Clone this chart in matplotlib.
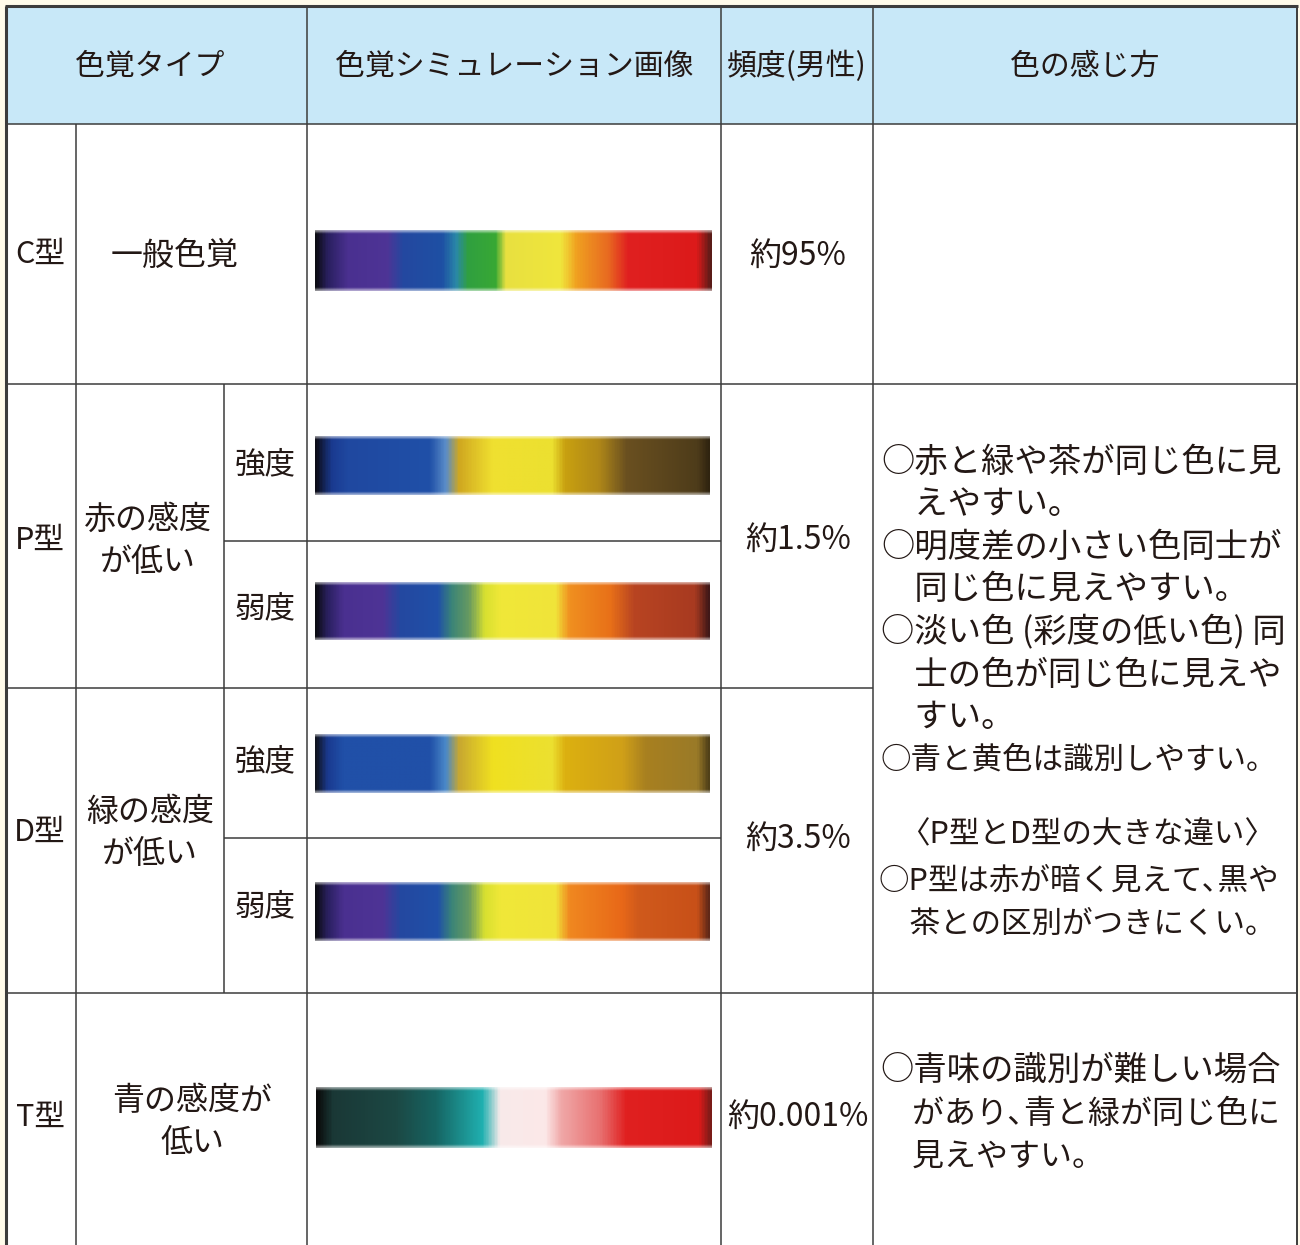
import numpy as np
import matplotlib
matplotlib.use("Agg")
import matplotlib.pyplot as plt
from matplotlib.colors import LinearSegmentedColormap, to_rgb
from matplotlib.patches import Rectangle

plt.rcParams['font.family'] = ['Noto Sans CJK JP', 'DejaVu Sans']

# --- data ---
headers = ["色覚タイプ", "色覚シミュレーション画像", "頻度(男性)", "色の感じ方"]
types = ["C型", "P型", "D型", "T型"]
type_desc = ["一般色覚", "赤の感度\nが低い", "緑の感度\nが低い", "青の感度が\n低い"]
strength = ["強度", "弱度"]
freq = ["約95%", "約1.5%", "約3.5%", "約0.001%"]

# lines of notes (half-width comma where the print sets it tight)
pd_notes = ["○赤と緑や茶が同じ色に見", "　えやすい。",
            "○明度差の小さい色同士が", "　同じ色に見えやすい。",
            "○淡い色 (彩度の低い色) 同", "　士の色が同じ色に見えや", "　すい。",
            "○青と黄色は識別しやすい。"]
pd_diff_title = "〈P型とD型の大きな違い〉"
pd_diff = ["○P型は赤が暗く見えて､黒や", "　茶との区別がつきにくい。"]
t_notes = ["○青味の識別が難しい場合", "　があり､青と緑が同じ色に", "　見えやすい。"]

# gradient stops (position along bar, colour) for each simulation image
grad_c = [(0.0, "#0c0c14"), (0.03, "#2a2060"), (0.08, "#4a3090"), (0.18, "#4e3496"),
          (0.22, "#2448a0"), (0.32, "#1e50a4"), (0.355, "#2a88a8"), (0.385, "#30a040"),
          (0.455, "#38a834"), (0.48, "#e8e040"), (0.62, "#f0e63c"), (0.66, "#f0a020"),
          (0.74, "#e86a20"), (0.79, "#e02020"), (0.965, "#dc1a1a"), (1.0, "#5a1c18")]
grad_p_strong = [(0.0, "#0c0c18"), (0.04, "#1a3a90"), (0.08, "#1f48a0"), (0.29, "#2050a8"),
                 (0.33, "#5a8cc8"), (0.365, "#d0a820"), (0.45, "#f0e030"), (0.6, "#ece030"),
                 (0.635, "#c8a010"), (0.72, "#b08818"), (0.79, "#6a5020"), (0.97, "#4e3c1a"),
                 (1.0, "#302410")]
grad_p_weak = [(0.0, "#0c0c14"), (0.03, "#2a2060"), (0.07, "#4a3090"), (0.17, "#4e3496"),
               (0.215, "#2448a0"), (0.31, "#2050a8"), (0.345, "#3a8478"), (0.39, "#689a60"),
               (0.43, "#d8e030"), (0.47, "#f0e838"), (0.61, "#f0e43a"), (0.645, "#f09020"),
               (0.75, "#e87018"), (0.81, "#b84422"), (0.965, "#a83a20"), (1.0, "#401818")]
grad_d_strong = [(0.0, "#101420"), (0.03, "#1a3a90"), (0.07, "#2050a8"), (0.29, "#2050a8"),
                 (0.33, "#4a88c8"), (0.365, "#c8a830"), (0.45, "#f0e020"), (0.6, "#ece030"),
                 (0.635, "#dcb010"), (0.78, "#d0a018"), (0.84, "#a88020"), (0.97, "#9a7a28"),
                 (1.0, "#504018")]
grad_d_weak = [(0.0, "#0c0c14"), (0.03, "#2a2060"), (0.07, "#4a3090"), (0.17, "#4e3496"),
               (0.215, "#2448a0"), (0.31, "#2050a8"), (0.345, "#3a8478"), (0.39, "#689a60"),
               (0.43, "#d8e030"), (0.47, "#f0e838"), (0.61, "#f0e43a"), (0.645, "#f08820"),
               (0.78, "#e86818"), (0.82, "#d05a1c"), (0.97, "#c85018"), (1.0, "#602818")]
grad_t = [(0.0, "#0a0a0a"), (0.04, "#1a3836"), (0.2, "#1c4844"), (0.3, "#166462"),
          (0.42, "#20b0b0"), (0.465, "#f8eaea"), (0.58, "#fce8e8"), (0.62, "#f0a8a8"),
          (0.72, "#e87070"), (0.785, "#e02020"), (0.97, "#dc1a1a"), (1.0, "#7a1c18")]

gradients = [grad_c, grad_p_strong, grad_p_weak, grad_d_strong, grad_d_weak, grad_t]

# --- layout (pixels) ---
W, H = 1300, 1245
L, R, T = 6, 1297, 6
HEAD = 124
COLS = [76, 224, 307, 721, 873]
bar_boxes = [(315, 712, 230, 291), (315, 710, 436, 495), (315, 710, 582, 640),
             (315, 710, 734, 793), (315, 710, 882, 941), (316, 712, 1087, 1148)]

INK = "#231815"
LINE = "#3c3c3c"
FS = 23
DY = 2  # Noto CJK sits a little high with va=center

fig = plt.figure(figsize=(W / 100, H / 100), dpi=100)
fig.patch.set_facecolor("#fffbea")
ax = fig.add_axes([0, 0, 1, 1])
ax.set_xlim(0, W)
ax.set_ylim(H, 0)
ax.axis("off")

ax.add_patch(Rectangle((L, T), R - L, H - T, facecolor="white", edgecolor="none", zorder=0))
ax.add_patch(Rectangle((L, T), R - L, HEAD - T, facecolor="#c8e8f8", edgecolor="none", zorder=0))


def hline(y, x0, x1, lw=1.1):
    ax.plot([x0, x1], [y, y], color=LINE, lw=lw, solid_capstyle="butt", zorder=3)


def vline(x, y0, y1, lw=1.1):
    ax.plot([x, x], [y0, y1], color=LINE, lw=lw, solid_capstyle="butt", zorder=3)


# grid
hline(T, L - 1, R + 1, lw=2.2)
vline(L, T, H, lw=2.2)
vline(R, T, H, lw=1.4)
hline(HEAD, L, R)
for x in COLS[2:]:
    vline(x, T, H)
vline(COLS[0], HEAD, H)
vline(COLS[1], 384, 993)
hline(384, L, R)
hline(541, COLS[1], COLS[3])
hline(688, L, COLS[4])
hline(838, COLS[1], COLS[3])
hline(993, L, R)


def gradient_image(stops, rows=40):
    cmap = LinearSegmentedColormap.from_list("g", [(p, to_rgb(c)) for p, c in stops])
    line = cmap(np.linspace(0, 1, 400))[:, :3]
    img = np.repeat(line[None, :, :], rows, axis=0)
    # soft top/bottom edge like a printed scan
    for i, a in enumerate([0.55, 0.25]):
        img[i] = img[i] * (1 - a) + a
        img[-1 - i] = img[-1 - i] * (1 - a) + a
    return img


for stops, (x0, x1, y0, y1) in zip(gradients, bar_boxes):
    ax.imshow(gradient_image(stops), extent=(x0, x1, y1, y0), aspect="auto",
              interpolation="bilinear", zorder=2)


def note(x, y, line, fs):
    ax.text(x, y + DY, line, ha="left", va="center", fontsize=fs, color=INK)


# header text
head_x = [150, 514, 797, 1085]
for txt, x in zip(headers, head_x):
    ax.text(x, 64 + DY, txt, ha="center", va="center", fontsize=21.5, color=INK)

# type column
type_y = [252, 538, 830, 1115]
for txt, y in zip(types, type_y):
    ax.text(40, y + DY, txt, ha="center", va="center", fontsize=22, color=INK)

ax.text(175, 254 + DY, type_desc[0], ha="center", va="center", fontsize=FS, color=INK)
for txt, (x, y) in zip(type_desc[1:], [(148, 539), (150, 831), (192, 1120)]):
    l1, l2 = txt.split("\n")
    ax.text(x, y - 21 + DY, l1, ha="center", va="center", fontsize=FS, color=INK)
    ax.text(x, y + 21 + DY, l2, ha="center", va="center", fontsize=FS, color=INK)

for y, txt in zip([463, 607, 760, 905], strength * 2):
    ax.text(265, y + DY, txt, ha="center", va="center", fontsize=FS - 1, color=INK)

for txt, y in zip(freq, [254, 538, 837, 1115]):
    ax.text(798, y + DY, txt, ha="center", va="center", fontsize=FS, color=INK)

# right column notes
pd_sizes = [24, 24, 24, 24, 24, 24, 24, 22]
for i, (txt, fs) in enumerate(zip(pd_notes, pd_sizes)):
    note(881, 460 + i * 42.6, txt, fs)
ax.text(1087, 833 + DY, pd_diff_title, ha="center", va="center", fontsize=FS - 1, color=INK)
for i, txt in enumerate(pd_diff):
    note(879, 879 + i * 43, txt, 22)
for i, (txt, fs) in enumerate(zip(t_notes, [24, 23, 23])):
    note(880, 1068 + i * 43.5, txt, fs)

fig.savefig("out.png", dpi=100, facecolor=fig.get_facecolor())
